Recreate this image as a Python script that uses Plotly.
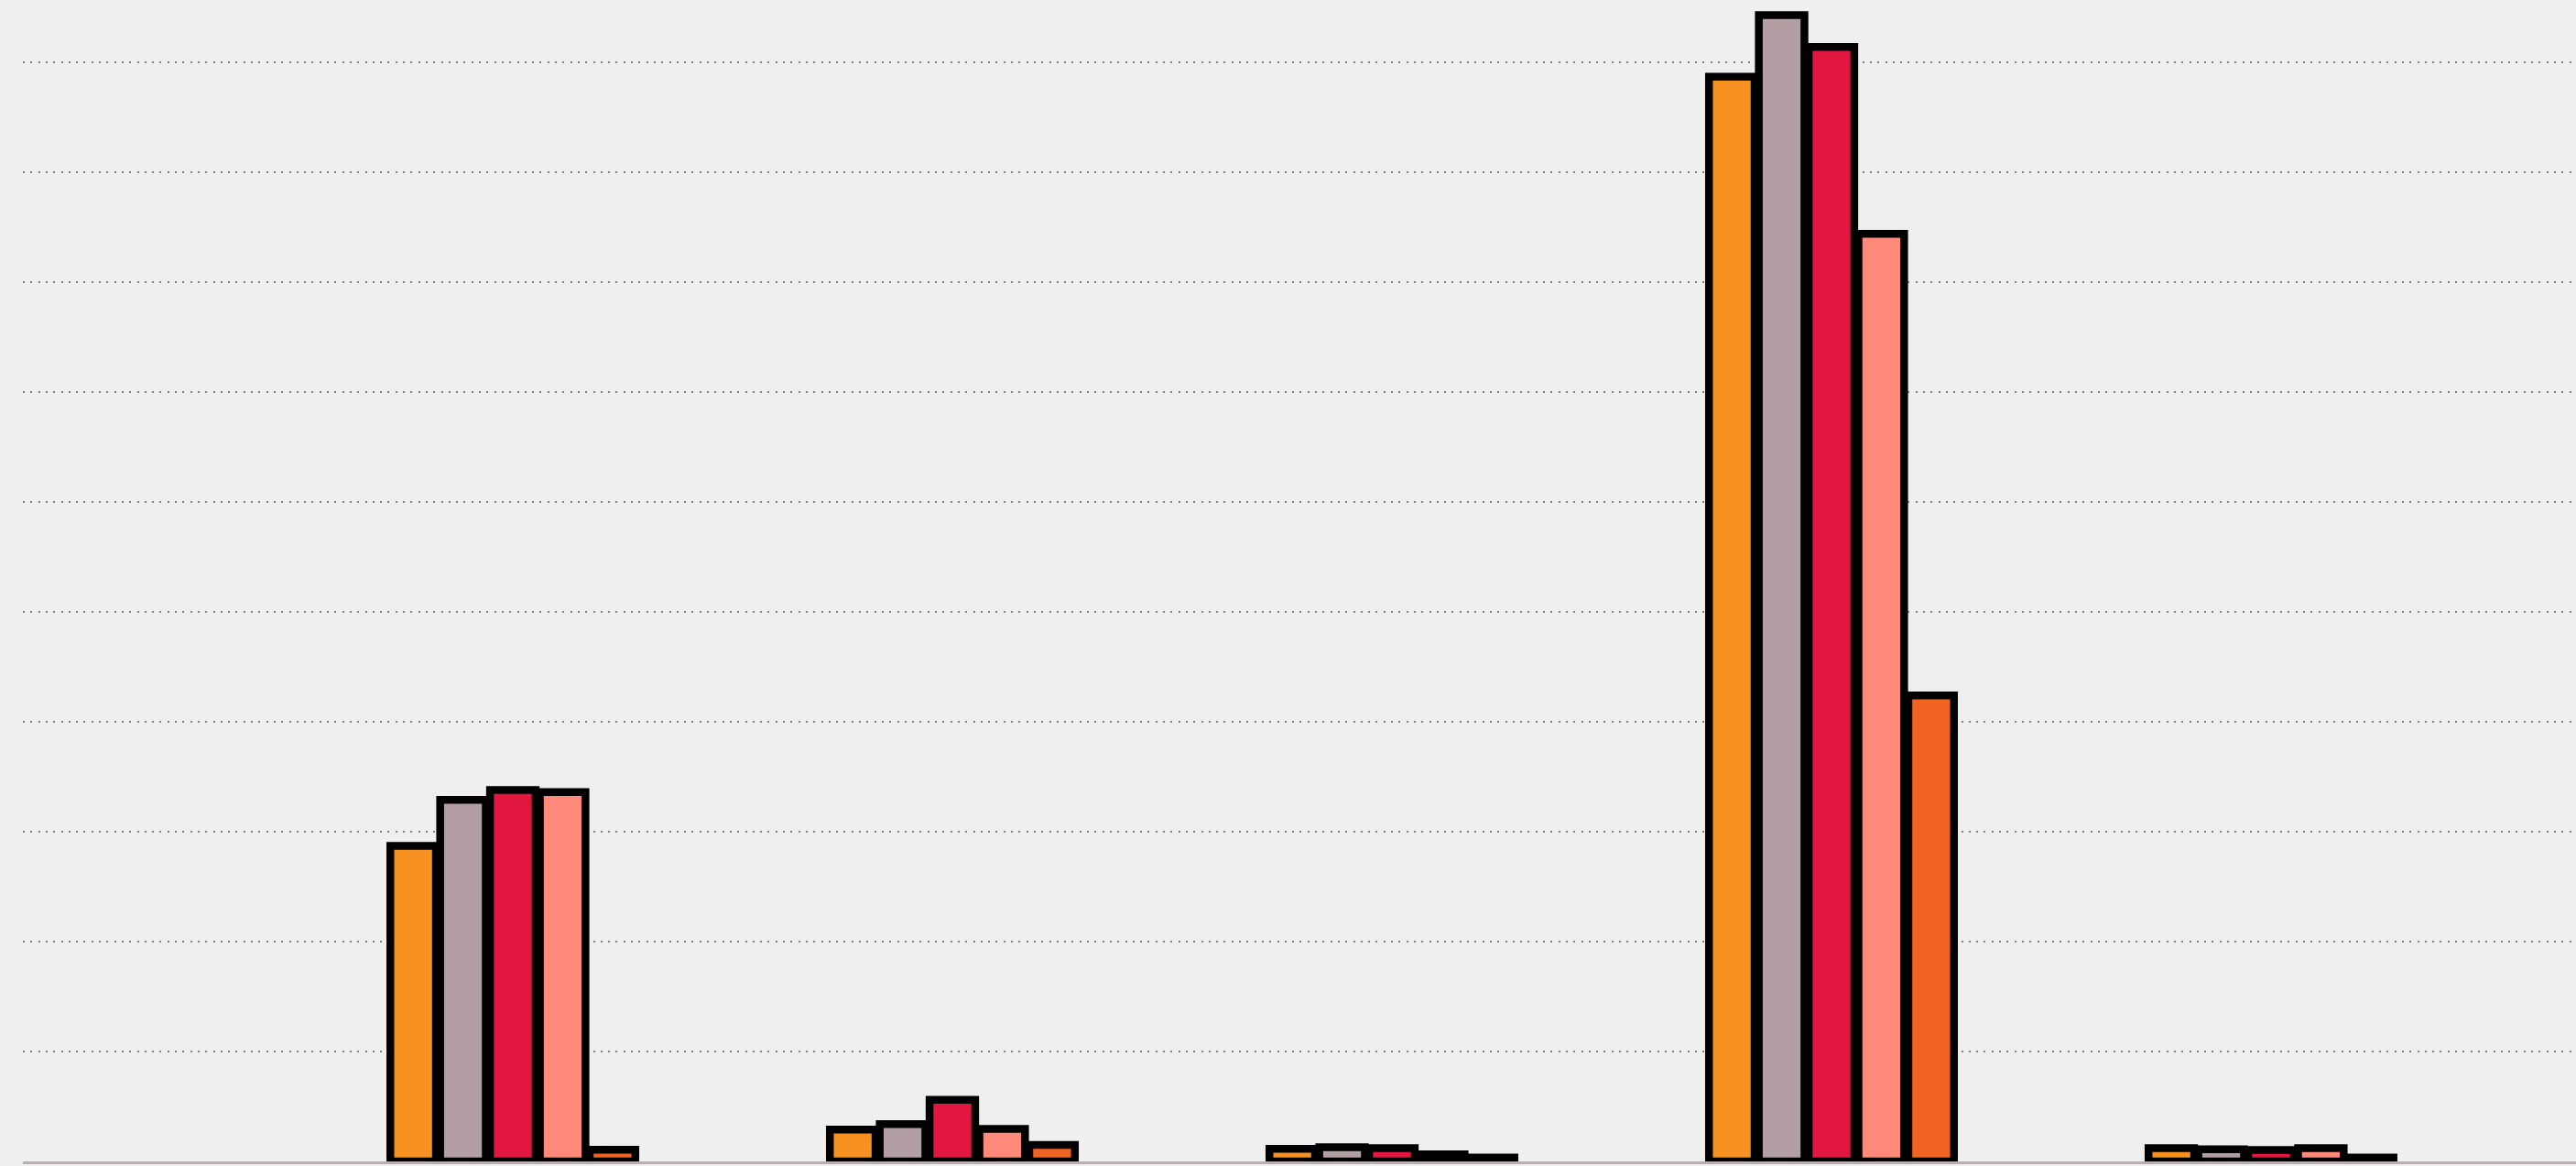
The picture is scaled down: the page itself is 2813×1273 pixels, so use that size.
import plotly.graph_objects as go

# ---- data (no labels are shown in it) ----
categories = ["Category 1", "Category 2", "Category 3", "Category 4", "Category 5"]
series_names = ["Series 1", "Series 2", "Series 3", "Series 4", "Series 5"]
series_1 = [28.7, 2.9, 1.15, 98.7, 1.2]
series_2 = [32.9, 3.4, 1.3, 104.3, 1.1]
series_3 = [33.8, 5.6, 1.2, 101.4, 1.05]
series_4 = [33.6, 2.95, 0.65, 84.4, 1.2]
series_5 = [1.06, 1.5, 0.35, 42.4, 0.35]
series_values = [series_1, series_2, series_3, series_4, series_5]
colors = ["#F79121", "#B39FA3", "#E2173F", "#FF8A7B", "#F16322"]

fig = go.Figure()
for name, vals, col in zip(series_names, series_values, colors):
    fig.add_trace(go.Bar(
        x=categories, y=vals, name=name,
        marker=dict(color=col, line=dict(color="#000000", width=8.5)),
        hoverinfo="x+y+name",
    ))

bg = "#efefef"
fig.update_layout(
    width=2813, height=1273, autosize=False,
    margin=dict(l=25, r=0, t=0, b=5, pad=0),
    paper_bgcolor=bg, plot_bgcolor=bg,
    barmode="group", bargap=0.433, bargroupgap=0.085,
    showlegend=False,
    xaxis=dict(
        type="category", range=[-1.1146, 4.6938],
        showticklabels=False, ticks="", showgrid=False, zeroline=False,
        showline=True, linecolor="#b8afb0", linewidth=3, fixedrange=True,
    ),
    yaxis=dict(
        range=[0, 105.67], dtick=10, tick0=0,
        showticklabels=False, ticks="", zeroline=False, showline=False,
        showgrid=True, gridcolor="#8c7b80", gridwidth=2, griddash="2px,6.3px",
        fixedrange=True,
    ),
)

fig.write_html(
    "out.html",
    config={"displayModeBar": False},
    post_script="document.body.style.margin='0';document.body.style.background='%s';" % bg,
)
